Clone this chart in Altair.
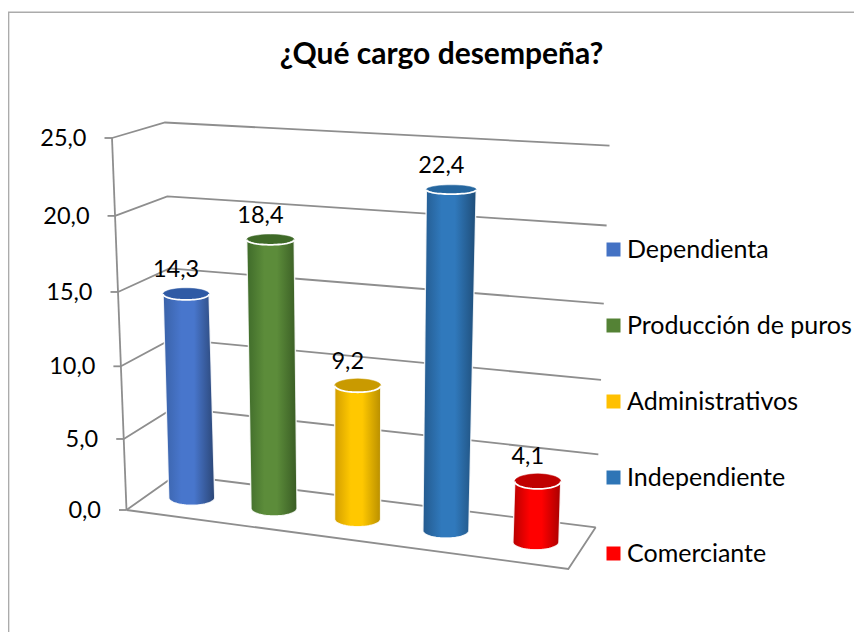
import math
import altair as alt
import pandas as pd

# ---- chart values ----
TITLE = "¿Qué cargo desempeña?"
categories = ["Dependienta", "Producción de puros", "Administrativos", "Independiente", "Comerciante"]
values = [14.3, 18.4, 9.2, 22.4, 4.1]
axis_ticks = [0, 5, 10, 15, 20, 25]
main_colors = ["#4472C4", "#548235", "#FFC000", "#2E75B6", "#FF0000"]
body_colors = ["#4876CC", "#5C8C3A", "#FFC800", "#3079BC", "#FF0000"]
left_shades = ["#3A62A8", "#3F6B2A", "#D29E00", "#245A8E", "#B80000"]
right_shades = ["#2B4676", "#395C24", "#B98F00", "#1F4D78", "#A80000"]
top_colors = ["#2F5AA5", "#3F6A28", "#C99A00", "#25669F", "#C00000"]

# ---- oblique projection of the 3-D box into page pixels ----
FL0, FLT = (126.5, 510.0), (112.0, 138.0)
BL0, BLT = (176.0, 475.0), (165.0, 122.5)
BR0, BRT = (595.7, 527.3), (609.5, 145.6)
FR0, FRT = (568.3, 569.0), (584.0, 166.0)
ZMAX, K = 25.0, 0.056
SLOTS = [0.094, 0.285, 0.479, 0.684, 0.893]
RX, N_ARC = 23.0, 36


def lerp(a, b, t):
    return a + (b - a) * t


def project(t, d, z):
    s = z / ZMAX
    f = s * (1 - K) / (1 - K * s)
    out = []
    for i in (0, 1):
        floor = lerp(lerp(FL0[i], FR0[i], t), lerp(BL0[i], BR0[i], t), d)
        top = lerp(lerp(FLT[i], FRT[i], t), lerp(BLT[i], BRT[i], t), d)
        out.append(lerp(floor, top, f))
    return out


def ry(z):
    return 8.2 - 0.165 * z


def rx(z):
    # the cylinders open slightly towards the top of the box
    return RX + max(0.0, z - 16.0) * 0.3


def arc(cx, cy, a_x, b, a0, a1):
    pts = []
    for j in range(N_ARC + 1):
        a = lerp(a0, a1, j / N_ARC)
        pts.append((cx + a_x * math.cos(a), cy + b * math.sin(a)))
    return pts


# identity-like position scales: page pixels minus the 8 px page margin
W, H = 846, 624
X = alt.X("x:Q", scale=alt.Scale(domain=[8, 8 + W], range=[0, W]), axis=None)
Y = alt.Y("y:Q", scale=alt.Scale(domain=[8, 8 + H], range=[0, H]), axis=None)
GRID = "#8E8E8E"


def frame(pts):
    return pd.DataFrame([{"x": p[0], "y": p[1], "i": i} for i, p in enumerate(pts)])


layers = []

# chart-area border
layers.append(alt.Chart(frame([(8.6, 8 + H), (8.6, 12.3), (8 + W, 12.3)])).mark_line(
    color="#ABABAB", strokeWidth=1.5).encode(x=X, y=Y, order="i:Q"))

# walls, floor, axis line, ticks
rows = []
for z in axis_ticks:
    for i, p in enumerate([project(0, 0, z), project(0, 1, z), project(1, 1, z)]):
        rows.append({"x": p[0], "y": p[1], "i": i, "g": f"w{z}"})
    fl = project(0, 0, z)
    rows.append({"x": fl[0] - 7.5, "y": fl[1], "i": 0, "g": f"t{z}"})
    rows.append({"x": fl[0], "y": fl[1], "i": 1, "g": f"t{z}"})
for i, p in enumerate([project(0, 0, 0), project(1, 0, 0), project(1, 1, 0)]):
    rows.append({"x": p[0], "y": p[1], "i": i, "g": "floor"})
for i, z in enumerate((0, ZMAX)):
    p = project(0, 0, z)
    rows.append({"x": p[0], "y": p[1], "i": i, "g": "axis"})
layers.append(alt.Chart(pd.DataFrame(rows)).mark_line(
    color=GRID, strokeWidth=1.8).encode(x=X, y=Y, order="i:Q", detail="g:N"))

# axis labels
tick_rows = []
for z in axis_ticks:
    p = project(0, 0, z)
    tick_rows.append({"x": p[0] - 25.5, "y": p[1], "label": f"{z:.1f}".replace(".", ",")})
layers.append(alt.Chart(pd.DataFrame(tick_rows)).mark_text(
    align="right", baseline="middle", font="Lato", fontSize=23.5, color="#000000", dy=1
).encode(x=X, y=Y, text="label:N"))

# cylinders
label_rows = []
legend_rows = []
for c, v, t, mid, lo, hi, top in zip(categories, values, SLOTS, body_colors, left_shades, right_shades, top_colors):
    bx, by = project(t, 0.5, 0)
    tx, ty = project(t, 0.5, v)
    tb = ry(v)
    ta = rx(v)
    outline = [(tx - ta, ty)] + arc(bx, by, RX, 7.5, math.pi, 0) + [(tx + ta, ty), (tx - ta, ty)]
    grad = alt.Gradient(
        gradient="linear", x1=0, x2=1, y1=0, y2=0,
        stops=[
            alt.GradientStop(color=lo, offset=0),
            alt.GradientStop(color=mid, offset=0.35),
            alt.GradientStop(color=mid, offset=0.6),
            alt.GradientStop(color=hi, offset=1),
        ],
    )
    layers.append(alt.Chart(frame(outline)).mark_line(
        fill=grad, stroke="#FFFFFF", strokeWidth=1.4, strokeOpacity=0.85
    ).encode(x=X, y=Y, order="i:Q"))
    ell = arc(tx, ty, ta, tb, 0, 2 * math.pi)
    layers.append(alt.Chart(frame(ell)).mark_line(
        fill=top, stroke=top, strokeWidth=0.5
    ).encode(x=X, y=Y, order="i:Q"))
    rim = arc(tx, ty, ta, tb, math.pi, 0)
    layers.append(alt.Chart(frame(rim)).mark_line(
        color="#FFFFFF", strokeWidth=1.8
    ).encode(x=X, y=Y, order="i:Q"))
    label_rows.append({"x": tx - 10, "y": ty - 24, "label": f"{v:.1f}".replace(".", ",")})
    legend_rows.append({"x": bx, "y": by, "cargo": c})

layers.append(alt.Chart(pd.DataFrame(label_rows)).mark_text(
    align="center", baseline="middle", font="Lato", fontSize=23.5, color="#000000", dy=0
).encode(x=X, y=Y, text="label:N"))

# legend carrier
layers.append(alt.Chart(pd.DataFrame(legend_rows)).mark_point(
    filled=True, shape="square", size=0
).encode(
    x=X, y=Y,
    color=alt.Color(
        "cargo:N",
        sort=categories,
        scale=alt.Scale(domain=categories, range=main_colors),
        legend=alt.Legend(
            title=None, orient="none", legendX=593, legendY=229,
            symbolType="square", symbolSize=196, symbolOpacity=1, symbolStrokeWidth=0,
            labelFont="Lato", labelFontSize=25, labelColor="#000000", labelLimit=300,
            labelOffset=1, rowPadding=50, padding=0,
        ),
    ),
))

chart = alt.layer(*layers).properties(
    width=W, height=H, padding=0,
    autosize=alt.AutoSizeParams(type="none"),
    background="#FFFFFF",
    title=alt.TitleParams(
        text=TITLE, font="Lato", fontSize=30, fontWeight="bold", color="#000000",
        anchor="middle", dx=10.5, offset=-86, baseline="alphabetic",
    ),
).configure_view(stroke=None)

chart.save("out.html", embed_options={"renderer": "svg", "actions": False})
